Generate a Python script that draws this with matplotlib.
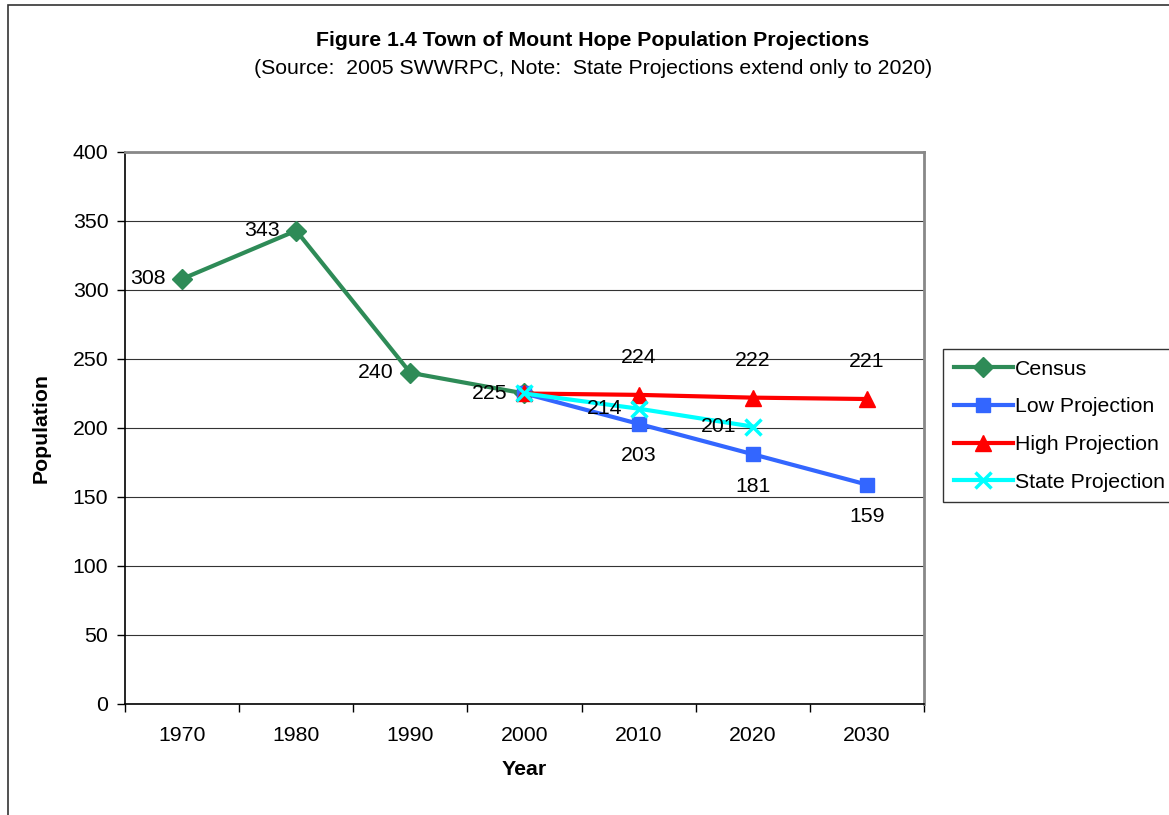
import matplotlib.pyplot as plt

plt.rcParams['font.family'] = ['Liberation Sans', 'DejaVu Sans']

years = ['1970', '1980', '1990', '2000', '2010', '2020', '2030']
census = [308, 343, 240, 225]
low_proj = [225, 203, 181, 159]
high_proj = [225, 224, 222, 221]
state_proj = [225, 214, 201]

x_census = list(range(0, 4))
x_low = list(range(3, 7))
x_high = list(range(3, 7))
x_state = list(range(3, 6))

fig = plt.figure(figsize=(11.69, 8.15), dpi=100)
ax = fig.add_axes([0.1069, 0.1362, 0.6835, 0.6773])

# outer chart border (cut off on right/bottom like the source)
fig.add_artist(plt.Rectangle((8 / 1169, -0.01), 1.2, 1 - 5 / 815 + 0.01,
                             transform=fig.transFigure, fill=False,
                             edgecolor='#333333', linewidth=1.2))

ax.plot(x_census, census, color='#2e8b57', lw=3, marker='D', ms=10,
        label='Census', zorder=3)
ax.plot(x_low, low_proj, color='#3366ff', lw=3, marker='s', ms=10,
        label='Low Projection', zorder=4)
ax.plot(x_high, high_proj, color='#ff0000', lw=3, marker='^', ms=11,
        label='High Projection', zorder=4)
ax.plot(x_state, state_proj, color='#00ffff', lw=3, marker='x', ms=12, mew=2.5,
        label='State Projection', zorder=5)

fs = 15.3
for x, v in zip(x_census, census):
    ax.annotate(str(v), (x, v), xytext=(-12, 0), textcoords='offset points',
                ha='right', va='center', fontsize=fs, zorder=6)
for x, v in zip(x_low[1:], low_proj[1:]):
    ax.annotate(str(v), (x, v), xytext=(0, -23), textcoords='offset points',
                ha='center', va='center', fontsize=fs, zorder=6)
for x, v in zip(x_high[1:], high_proj[1:]):
    ax.annotate(str(v), (x, v), xytext=(0, 27), textcoords='offset points',
                ha='center', va='center', fontsize=fs, zorder=6)
for x, v in zip(x_state[1:], state_proj[1:]):
    ax.annotate(str(v), (x, v), xytext=(-12, 0), textcoords='offset points',
                ha='right', va='center', fontsize=fs, zorder=6)

ax.set_xlim(-0.5, 6.5)
ax.set_ylim(0, 400)
ax.set_yticks(range(0, 401, 50))
ax.set_xticks(range(7))
ax.set_xticklabels(years)
ax.set_xticks([i - 0.5 for i in range(8)], minor=True)
ax.tick_params(axis='x', which='major', length=0, labelsize=fs, pad=16)
ax.tick_params(axis='x', which='minor', length=6, width=1, direction='out')
ax.tick_params(axis='y', length=6, width=1, direction='out', labelsize=fs, pad=6)
ax.grid(axis='y', color='#333333', linewidth=0.8)
ax.set_axisbelow(True)
for side in ['top', 'right']:
    ax.spines[side].set_color('#888888')
    ax.spines[side].set_linewidth(2)
for side in ['left', 'bottom']:
    ax.spines[side].set_color('black')
    ax.spines[side].set_linewidth(1.2)

ax.set_xlabel('Year', fontsize=fs, fontweight='bold', labelpad=11)
ax.set_ylabel('Population', fontsize=fs, fontweight='bold', labelpad=16)

fig.text(593 / 1169, 1 - 41 / 815, 'Figure 1.4 Town of Mount Hope Population Projections',
         ha='center', va='center', fontsize=fs, fontweight='bold')
fig.text(593 / 1169, 1 - 69 / 815,
         '(Source:  2005 SWWRPC, Note:  State Projections extend only to 2020)',
         ha='center', va='center', fontsize=fs)

leg = fig.legend(loc='upper left', bbox_to_anchor=(943 / 1169, 1 - 349 / 815),
                 fontsize=fs, frameon=True, fancybox=False, edgecolor='black',
                 handlelength=2.8, handletextpad=0.1, labelspacing=0.88,
                 borderpad=0.5, borderaxespad=0)
leg.get_frame().set_linewidth(1)

fig.savefig('out.png', dpi=100)
